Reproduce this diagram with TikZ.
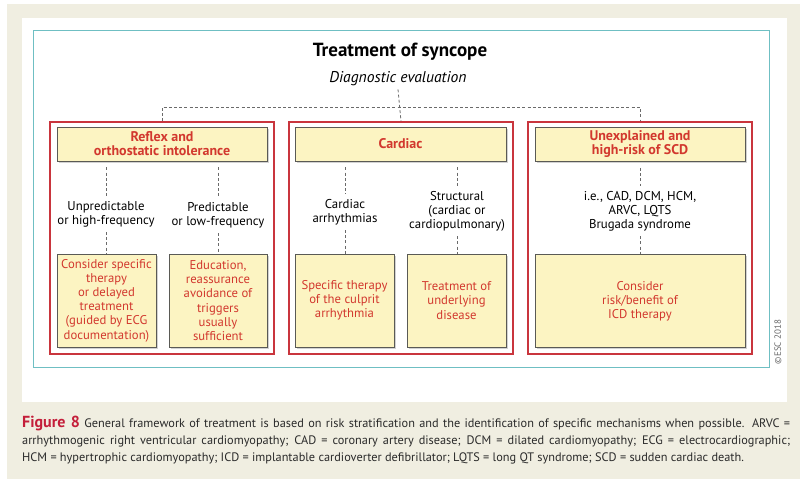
\documentclass[tikz,border=0pt]{standalone}
\usepackage{fontspec}
\setmainfont{PT Sans}
\usetikzlibrary{shadows}
\definecolor{beige}{HTML}{F0EEE1}
\definecolor{teal}{HTML}{6FBFC3}
\definecolor{frame}{HTML}{C9353D}
\definecolor{yel}{HTML}{FCF4C2}
\definecolor{txtred}{HTML}{D2382E}
\definecolor{figred}{HTML}{C41E3A}
\definecolor{boxgray}{HTML}{5A5A55}
\definecolor{dashgray}{HTML}{6A6A6A}
\definecolor{captxt}{HTML}{2A2A2A}
\tikzset{
  redframe/.style={draw=frame, line width=1.7pt, minimum width=224pt, minimum height=232pt, inner sep=0pt},
  ybox/.style={draw=boxgray, fill=yel, line width=0.9pt, inner sep=0pt, align=center,
     text=txtred, drop shadow={shadow xshift=1.6pt, shadow yshift=-1.6pt, opacity=0.35}},
  hdr/.style={ybox, minimum height=34pt, font=\bfseries\fontsize{14}{14}\selectfont},
  bot/.style={ybox, minimum height=93pt, font=\fontsize{12.7}{14.2}\selectfont},
  lab/.style={align=center, inner sep=0pt, font=\fontsize{12.8}{14}\selectfont},
  dsh/.style={draw=dashgray, line width=0.8pt, dash pattern=on 3pt off 2.2pt},
  capline/.style={anchor=base west, inner sep=0pt, text=captxt, font=\fontsize{12.3}{13}\selectfont}
}
\begin{document}
\begin{tikzpicture}[x=1pt,y=-1pt]
\useasboundingbox (0,0) rectangle (805,483);
\fill[white] (0,0) rectangle (805,483);
\fill[beige] (7,4) rectangle (800,479);
\fill[white] (22,18) rectangle (787,402);
\draw[teal, line width=1pt] (33,30) rectangle (769,367);

\node[font=\bfseries\fontsize{19}{20}\selectfont] (title) at (400,52) {Treatment of syncope};
\node[font=\itshape\fontsize{15.6}{16}\selectfont, inner sep=1pt] (diag) at (398,79) {Diagnostic evaluation};

% red frames
\node[redframe] (r1) at (162,238) {};
\node[redframe] (r2) at (401,238) {};
\node[redframe] (r3) at (640,238) {};

% top connectors
\draw[dsh] (diag.south) ++(0,2) -- (r2.north);
\draw[dsh] (r1.north) -- ++(0,-14) -| (r3.north);

% headers
\node[hdr, minimum width=210pt] (h1) at (162,144) {Reflex and\\orthostatic intolerance};
\node[hdr, minimum width=211pt] (h2) at (400.5,144) {Cardiac};
\node[hdr, minimum width=210pt] (h3) at (640,144.5) {Unexplained and\\high-risk of SCD};

% labels
\node[lab] (l1) at (106,214) {Unpredictable\\or high-frequency};
\node[lab] (l2) at (218,215) {Predictable\\or low-frequency};
\node[lab] (l3) at (345,212) {Cardiac\\arrhythmias};
\node[lab] (l4) at (457,211) {Structural\\(cardiac or\\cardiopulmonary)};
\node[lab] (l5) at (640,211) {i.e., CAD, DCM, HCM,\\ARVC, LQTS\\Brugada syndrome};

% bottom boxes
\node[bot, minimum width=99pt] (b1) at (106.5,300.5) {Consider specific\\therapy\\or delayed\\treatment\\(guided by ECG\\documentation)};
\node[bot, minimum width=98pt] (b2) at (218,300.5) {Education,\\reassurance\\avoidance of\\triggers\\usually\\sufficient};
\node[bot, minimum width=99pt] (b3) at (344.5,300.5) {Specific therapy\\of the culprit\\arrhythmia};
\node[bot, minimum width=99pt] (b4) at (456.5,300.5) {Treatment of\\underlying\\disease};
\node[bot, minimum width=210pt] (b5) at (640,301) {Consider\\risk/benefit of\\ICD therapy};

% inner connectors
\foreach \h/\l/\b in {h1/l1/b1, h1/l2/b2, h2/l3/b3, h2/l4/b4, h3/l5/b5}{
  \draw[dsh, shorten <=6pt, shorten >=5pt] (\h.south -| \l.north) -- (\l.north);
  \draw[dsh, shorten <=5pt] (\l.south) -- (\l.south |- \b.north);
}

\node[rotate=90, text=black!60, font=\fontsize{9}{9}\selectfont, inner sep=0pt] (esc) at (778,342) {©ESC 2018};

% caption
\node[capline] (c1) at (22,427) {\makebox[768pt][s]{{\color{figred}\bfseries\fontsize{16}{16}\selectfont Figure 8} General framework of treatment is based on risk stratification and the identification of specific mechanisms when possible. ARVC =}};
\node[capline] (c2) at (22,444) {\makebox[768pt][s]{arrhythmogenic right ventricular cardiomyopathy; CAD = coronary artery disease; DCM = dilated cardiomyopathy; ECG = electrocardiographic;}};
\node[capline] (c3) at (22,461) {HCM = hypertrophic cardiomyopathy; ICD = implantable cardioverter defibrillator; LQTS = long QT syndrome; SCD = sudden cardiac death.};
\end{tikzpicture}
\end{document}
